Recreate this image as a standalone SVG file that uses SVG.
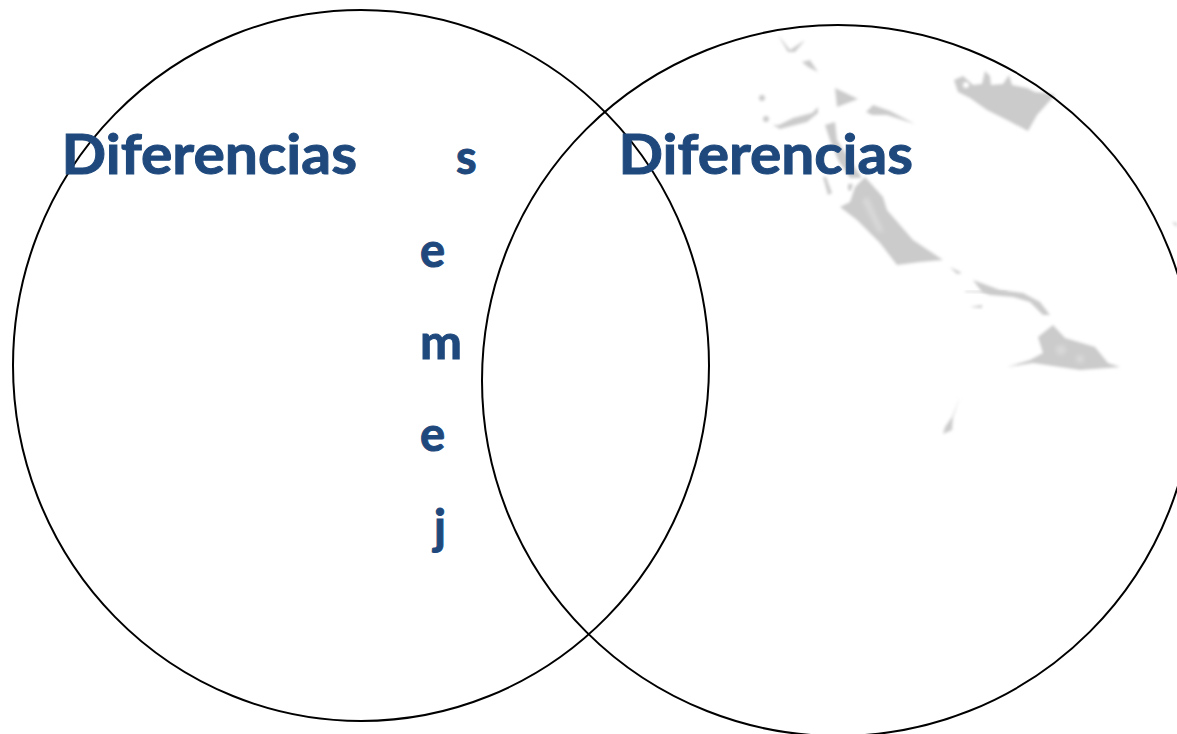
<svg xmlns="http://www.w3.org/2000/svg" width="1177" height="734" viewBox="0 0 1177 734">
<style>
.t{font-family:"Lato","Noto Sans",sans-serif;font-weight:700;fill:#1f497d;stroke:#1f497d;stroke-width:1}
.big{font-size:56px}
.ltr{font-size:47px}
.c{fill:none;stroke:#000;stroke-width:2}
.m{fill:#cbcbcb;filter:url(#b)}
.h{fill:#d8d8d8;filter:url(#s)}
</style>
<defs>
<filter id="b" x="-40%" y="-40%" width="180%" height="180%"><feGaussianBlur stdDeviation="1.4"/></filter>
<filter id="s" x="-80%" y="-80%" width="260%" height="260%"><feGaussianBlur stdDeviation="2.2"/></filter>
</defs>
<rect width="1177" height="734" fill="#fff"/>
<g id="map">
<path class="m" d="M954 80L963 76L973 85L982 84L985 71L990 76L991 85L1003 84L1009 75L1012 85L1027 88L1035 92L1045 93L1055 95L1037 115L1028 131L1007 120L987 110L970 98L958 92Z"/>
<circle cx="966" cy="85" r="3" fill="#fff" filter="url(#b)"/>
<path class="m" d="M840 207L850 202L855 187L865 177L883 197L887 210L913 240L943 260L920 262L897 265L880 243L857 220Z"/>
<path class="h" d="M862 200L868 197L884 232L878 232Z"/>
<path class="m" d="M778 35L790 50L805 40L795 52L788 52Z"/>
<path class="m" d="M802 62L810 60L818 72L808 67Z"/>
<path class="m" d="M835 88L858 99L837 107Z"/>
<path class="m" d="M773 125L779 125L793 118L812 113L818 107L818 113L807 122L780 129Z"/>
<path class="m" d="M866 112L873 105L890 111L915 124L887 115L872 115Z"/>
<circle class="m" cx="762" cy="98" r="3"/>
<circle class="m" cx="766" cy="119" r="3"/>
<path class="m" d="M825 125L835 122L837 140L850 160L862 178L850 178L838 160L830 140Z"/>
<path class="m" d="M823 177L826 177L832 193L828 195Z"/>
<path class="m" d="M848 184L853 184L851 191L848 190Z"/>
<path class="m" d="M950 267L962 273L957 274Z"/>
<path class="m" d="M973 280L1000 290L1023 293L1040 302L1050 315L1043 315L1030 302L1013 297L990 295L982 292Z"/>
<path class="m" d="M965 291L1007 291L1007 293L965 292Z"/>
<path class="m" d="M970 307L982 305L982 308Z"/>
<path class="m" d="M1053 325L1065 338L1095 347L1108 363L1120 367L1080 370L1033 363L1007 367L1030 360L1043 353L1038 337Z"/>
<circle class="h" cx="1061" cy="350" r="5"/>
<circle class="h" cx="1080" cy="359" r="4"/>
<path class="m" d="M960 397L953 417L952 430L943 434L945 427L952 417Z"/>
<path class="m" d="M1172 222L1177 223L1177 227Z"/>
</g>
<g id="connectors"></g>
<g id="left-set">
<ellipse class="c" cx="361" cy="365.500" rx="348" ry="355.500"/>
<text class="t big" x="61.500" y="174" textLength="295.500" lengthAdjust="spacingAndGlyphs">Diferencias</text>
</g>
<g id="right-set">
<ellipse class="c" cx="838" cy="380.500" rx="356" ry="355.500"/>
<text class="t big" x="618.500" y="174" textLength="294.500" lengthAdjust="spacingAndGlyphs">Diferencias</text>
</g>
<g id="semejanzas">
<text class="t ltr" x="456" y="174">s</text>
<text class="t ltr" x="420" y="267">e</text>
<text class="t ltr" x="420" y="359" textLength="42" lengthAdjust="spacingAndGlyphs">m</text>
<text class="t ltr" x="420" y="451">e</text>
<text class="t ltr" x="434" y="544">j</text>
</g>
</svg>
